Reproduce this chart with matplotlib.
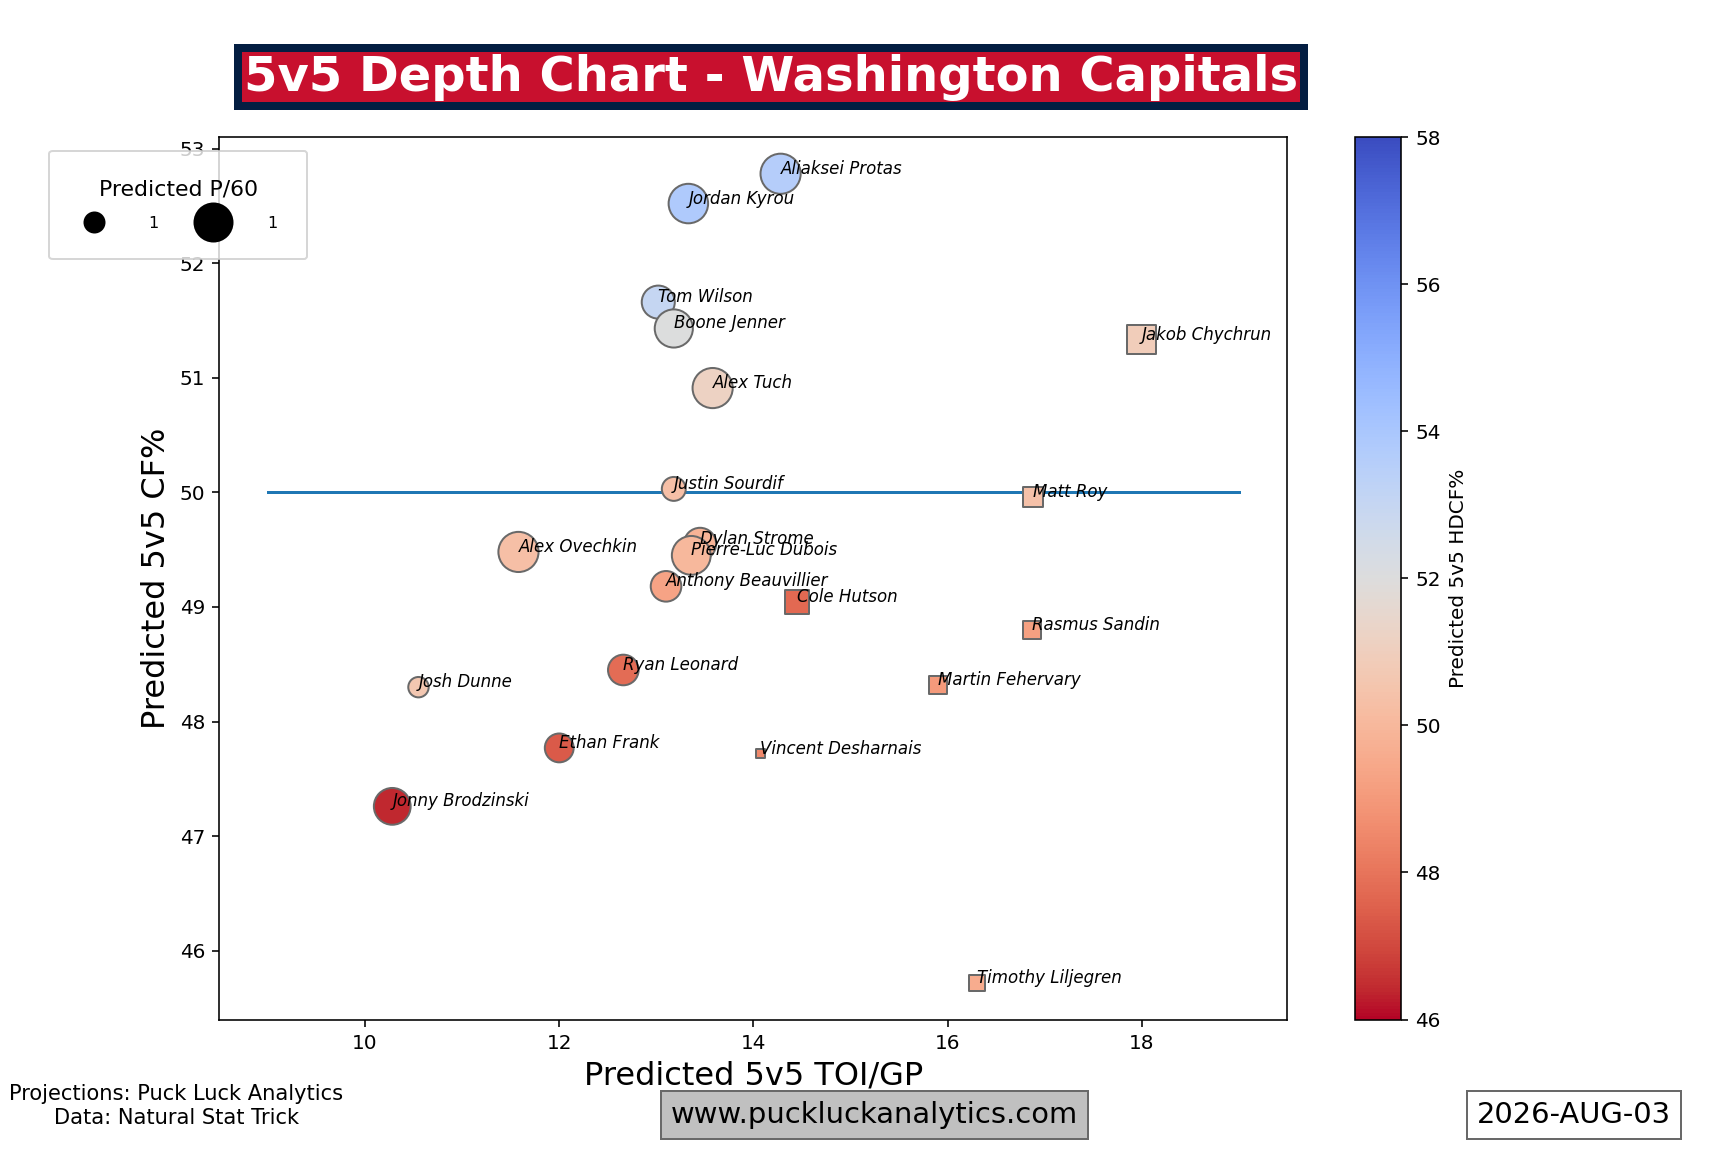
import matplotlib
matplotlib.use("Agg")
import matplotlib.pyplot as plt
from matplotlib.lines import Line2D

# Forwards (circles)
fwd_names = ["Aliaksei Protas", "Jordan Kyrou", "Tom Wilson", "Boone Jenner", "Alex Tuch",
             "Justin Sourdif", "Dylan Strome", "Pierre-Luc Dubois", "Alex Ovechkin",
             "Anthony Beauvillier", "Ryan Leonard", "Josh Dunne", "Ethan Frank", "Jonny Brodzinski"]
fwd_toi = [14.28, 13.33, 13.02, 13.18, 13.58, 13.18, 13.45, 13.36, 11.58, 13.10, 12.66, 10.55, 12.00, 10.28]
fwd_cf = [52.78, 52.52, 51.66, 51.43, 50.91, 50.03, 49.55, 49.45, 49.48, 49.18, 48.45, 48.30, 47.77, 47.26]
fwd_p60 = [1.55, 1.50, 1.05, 1.40, 1.55, 0.55, 1.00, 1.45, 1.55, 0.90, 0.90, 0.40, 0.80, 1.30]
fwd_hd = [53.6, 53.8, 53.0, 52.0, 51.2, 50.3, 49.8, 50.0, 50.3, 49.3, 47.8, 50.6, 47.4, 46.4]

# Defense (squares)
d_names = ["Jakob Chychrun", "Matt Roy", "Cole Hutson", "Rasmus Sandin", "Martin Fehervary",
           "Vincent Desharnais", "Timothy Liljegren"]
d_toi = [18.00, 16.88, 14.45, 16.87, 15.90, 14.07, 16.30]
d_cf = [51.33, 49.96, 49.04, 48.80, 48.32, 47.72, 45.72]
d_p60 = [1.10, 0.55, 0.75, 0.45, 0.45, 0.10, 0.35]
d_hd = [50.9, 50.4, 47.7, 49.2, 49.0, 48.5, 49.6]

fig = plt.figure(figsize=(12, 8), dpi=144)
ax = fig.add_axes([0.127, 0.115, 0.618, 0.766])
cax = fig.add_axes([0.784, 0.115, 0.027, 0.766])

sc = ax.scatter(fwd_toi, fwd_cf, s=[p * 260 for p in fwd_p60], c=fwd_hd, cmap="coolwarm_r",
                vmin=46, vmax=58, marker="o", edgecolors="dimgray", linewidths=1, zorder=3)
ax.scatter(d_toi, d_cf, s=[p * 190 for p in d_p60], c=d_hd, cmap="coolwarm_r",
           vmin=46, vmax=58, marker="s", edgecolors="dimgray", linewidths=1, zorder=3)
for n, x, y in zip(fwd_names + d_names, fwd_toi + d_toi, fwd_cf + d_cf):
    ax.text(x, y, n, fontsize=8.3, style="italic", zorder=4)

ax.plot([9, 19], [50, 50], color="tab:blue", zorder=2)
ax.set_xlim(8.5, 19.5)
ax.set_ylim(45.4, 53.1)
ax.set_xlabel("Predicted 5v5 TOI/GP", fontsize=16)
ax.set_ylabel("Predicted 5v5 CF%", fontsize=16)

cb = fig.colorbar(sc, cax=cax)
cb.set_label("Predicted 5v5 HDCF%")

handles = [Line2D([], [], marker="o", ls="", color="black", markersize=10, label="1"),
           Line2D([], [], marker="o", ls="", color="black", markersize=19, label="1")]
fig.legend(handles=handles, title="Predicted P/60", ncol=2, loc="upper left",
           bbox_to_anchor=(0.024, 0.876), fontsize=8, borderpad=1.8, handletextpad=2.4,
           columnspacing=2.4, title_fontsize=11, labelspacing=1.0)

fig.text(0.446, 0.933, "5v5 Depth Chart - Washington Capitals", fontsize=24, weight="bold",
         color="white", ha="center", va="center",
         bbox=dict(facecolor="#C8102E", edgecolor="#041E42", linewidth=4, pad=3))
fig.text(0.102, 0.04, "Projections: Puck Luck Analytics\nData: Natural Stat Trick",
         ha="center", va="center", fontsize=10.5)
fig.text(0.506, 0.032, "www.puckluckanalytics.com", ha="center", va="center", fontsize=14.5,
         bbox=dict(facecolor="silver", edgecolor="dimgray", pad=5))
fig.text(0.911, 0.032, "2026-AUG-03", ha="center", va="center", fontsize=14.5,
         bbox=dict(facecolor="white", edgecolor="dimgray", pad=5))

fig.savefig("out.png")
